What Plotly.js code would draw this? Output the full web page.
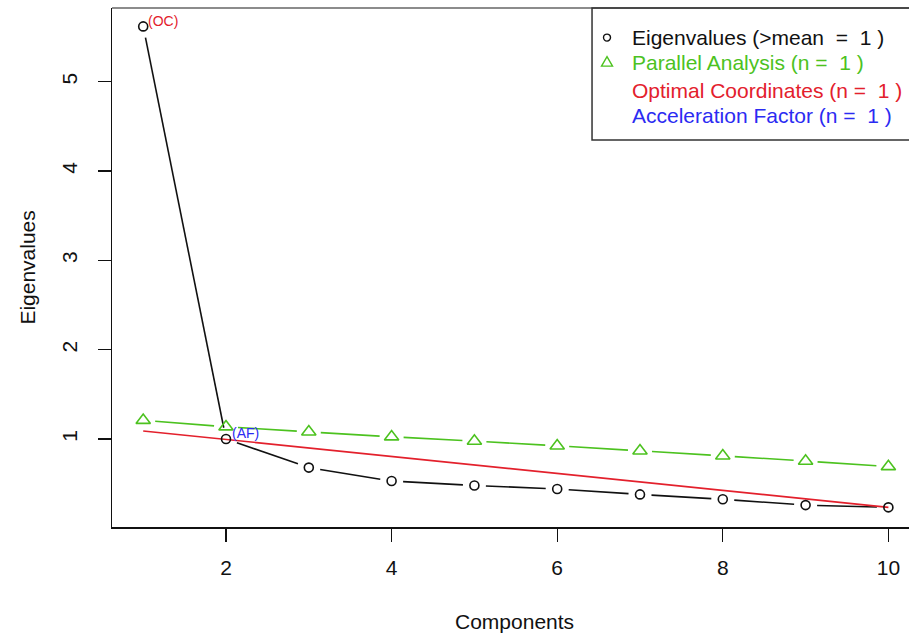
<!DOCTYPE html>
<html>
<head>
<meta charset="utf-8">
<script src="https://cdn.plot.ly/plotly-3.0.1.min.js"></script>
<style>html,body{margin:0;padding:0;background:#fff;}</style>
</head>
<body>
<div id="chart" style="width:909px;height:634px;"></div>
<script>
// ---- data ----
const components = [1, 2, 3, 4, 5, 6, 7, 8, 9, 10];
const eigenvalues = [5.62, 1.00, 0.68, 0.53, 0.48, 0.44, 0.38, 0.325, 0.26, 0.235];
const parallelAnalysis = [1.21, 1.137, 1.08, 1.025, 0.977, 0.924, 0.868, 0.812, 0.753, 0.692];
const ocX = [1, 10];
const ocY = [1.09, 0.235];
const xTicks = [2, 4, 6, 8, 10];
const yTicks = [1, 2, 3, 4, 5];
const legendLabels = [
  "Eigenvalues (>mean  =  1 )",
  "Parallel Analysis (n =  1 )",
  "Optimal Coordinates (n =  1 )",
  "Acceleration Factor (n =  1 )"
];
const pointLabels = ["(OC)", "(AF)"];

// ---- styles / geometry ----
const FONT = "Liberation Sans, Arial, sans-serif";
const GREEN = "#4cc21f";
const RED = "#e3202c";
const BLUE = "#2b2bf2";
const BLACK = "#111111";
const W = 909, H = 634;
const M = {l: 112, r: 0, t: 8, b: 107};
const xRange = [0.623, 10.249];
const yRange = [0.015, 5.826];

// R type="b": line segments stop short of each point (gap in pixels)
function gapped(xs, ys, gapPx) {
  const kx = (W - M.l - M.r) / (xRange[1] - xRange[0]);
  const ky = (H - M.t - M.b) / (yRange[1] - yRange[0]);
  const ox = [], oy = [];
  for (let i = 0; i < xs.length - 1; i++) {
    const dx = (xs[i + 1] - xs[i]) * kx, dy = (ys[i + 1] - ys[i]) * ky;
    const d = Math.hypot(dx, dy);
    if (d <= 2 * gapPx) continue;
    const f = gapPx / d;
    ox.push(xs[i] + (xs[i + 1] - xs[i]) * f, xs[i + 1] - (xs[i + 1] - xs[i]) * f, null);
    oy.push(ys[i] + (ys[i + 1] - ys[i]) * f, ys[i + 1] - (ys[i + 1] - ys[i]) * f, null);
  }
  return {x: ox, y: oy};
}

const paSeg = gapped(components, parallelAnalysis, 12);
const evSeg = gapped(components, eigenvalues, 11.5);

const traces = [
  {x: paSeg.x, y: paSeg.y, mode: "lines", line: {color: GREEN, width: 1.6}, connectgaps: false, hoverinfo: "skip"},
  {x: evSeg.x, y: evSeg.y, mode: "lines", line: {color: BLACK, width: 1.6}, connectgaps: false, hoverinfo: "skip"},
  {x: ocX, y: ocY, mode: "lines", line: {color: RED, width: 1.6}, hoverinfo: "skip"},
  {x: components, y: eigenvalues, mode: "markers", marker: {symbol: "circle-open", size: 9, color: BLACK, line: {width: 1.6, color: BLACK}}},
  {x: components, y: parallelAnalysis, mode: "markers", marker: {symbol: "triangle-up-open", size: 12.5, color: GREEN, line: {width: 1.6, color: GREEN}}}
];

// legend geometry (paper coords of plot area)
const legX0 = 0.6023, legY0 = 0.7457;
const rowY = [0.9430, 0.8948, 0.8409, 0.7927];
const symX = 0.6211, txtX = 0.6503;
const legColors = [BLACK, GREEN, RED, BLUE];

const shapes = [
  {type: "line", xref: "paper", yref: "paper", x0: 0, x1: 1, y0: 1, y1: 1, line: {color: "#8c8c8c", width: 2}},
  {type: "rect", xref: "paper", yref: "paper", x0: legX0, x1: 1.05, y0: legY0, y1: 1, line: {color: "#333333", width: 1.5}, fillcolor: "rgba(0,0,0,0)"},
  {type: "circle", xref: "paper", yref: "paper", xsizemode: "pixel", ysizemode: "pixel", xanchor: symX, yanchor: rowY[0],
   x0: -3.5, x1: 3.5, y0: -3.5, y1: 3.5, line: {color: BLACK, width: 1.4}},
  {type: "path", xref: "paper", yref: "paper", xsizemode: "pixel", ysizemode: "pixel", xanchor: symX, yanchor: rowY[1],
   path: "M -5.5 -3.5 L 5.5 -3.5 L 0 6 Z", line: {color: GREEN, width: 1.4}}
];

const annotations = [];
legendLabels.forEach((t, i) => {
  annotations.push({xref: "paper", yref: "paper", x: txtX, y: rowY[i], xanchor: "left", yanchor: "middle",
    text: t, showarrow: false, font: {family: FONT, size: 21, color: legColors[i]}});
});
annotations.push({x: components[0], y: eigenvalues[0], xref: "x", yref: "y", text: pointLabels[0], showarrow: false,
  xanchor: "left", yanchor: "middle", xshift: 3, yshift: 5, font: {family: FONT, size: 14, color: RED}});
annotations.push({x: components[1], y: eigenvalues[1], xref: "x", yref: "y", text: pointLabels[1], showarrow: false,
  xanchor: "left", yanchor: "middle", xshift: 4, yshift: 6, font: {family: FONT, size: 14, color: BLUE}});
annotations.push({xref: "paper", yref: "paper", x: 0.5056, y: -0.183, xanchor: "center", yanchor: "middle",
  text: "Components", showarrow: false, font: {family: FONT, size: 21, color: BLACK}});
annotations.push({xref: "paper", yref: "paper", x: -0.1065, y: 0.5, xanchor: "center", yanchor: "middle",
  text: "Eigenvalues", textangle: -90, showarrow: false, font: {family: FONT, size: 21, color: BLACK}});

const axisCommon = {
  showline: true, linecolor: BLACK, linewidth: 1.5, ticks: "outside", ticklen: 13, tickwidth: 1.3, tickcolor: BLACK,
  showgrid: false, zeroline: false, tickfont: {family: FONT, size: 21, color: BLACK}
};

const layout = {
  width: W, height: H,
  margin: M,
  paper_bgcolor: "#ffffff", plot_bgcolor: "#ffffff",
  showlegend: false,
  xaxis: Object.assign({}, axisCommon, {range: xRange, tickmode: "array", tickvals: xTicks, ticklabelstandoff: 8}),
  yaxis: Object.assign({}, axisCommon, {range: yRange, tickmode: "array", tickvals: yTicks, tickangle: -90, ticklabelstandoff: 12}),
  shapes: shapes,
  annotations: annotations
};

Plotly.newPlot("chart", traces, layout, {staticPlot: true, displayModeBar: false});
</script>
</body>
</html>
